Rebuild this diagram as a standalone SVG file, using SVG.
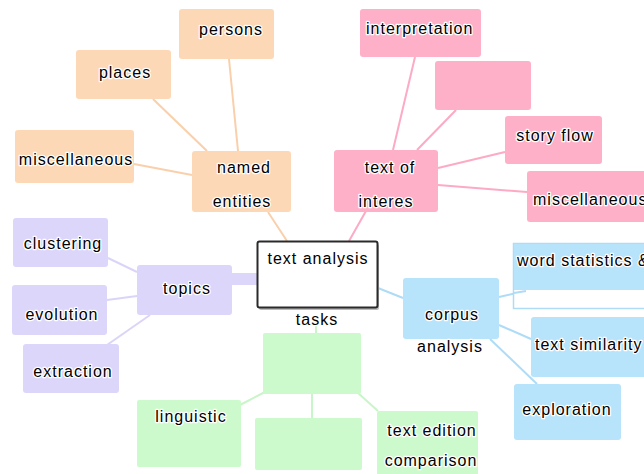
<svg xmlns="http://www.w3.org/2000/svg" width="644" height="474" viewBox="0 0 644 474">
  <style>
    text { font-family: "Liberation Sans", Arial, sans-serif; font-size: 16px; letter-spacing: 1px; fill: #000; stroke: #fff; stroke-width: 2.5px; paint-order: stroke; stroke-linejoin: round; text-anchor: middle; }
    .start { text-anchor: start; }
    .or { fill: #fdd8b6; }
    .pk { fill: #ffb0c9; }
    .pu { fill: #ddd6fb; }
    .gr { fill: #cdfacd; }
    .bl { fill: #b7e3fb; }
    .lo { stroke: #f9d0ab; stroke-width: 2; fill: none; }
    .lp { stroke: #fdaac4; stroke-width: 2; fill: none; }
    .lu { stroke: #dcd4f8; stroke-width: 2; fill: none; }
    .lg { stroke: #c9f5c9; stroke-width: 2; fill: none; }
    .lb { stroke: #aedcf7; stroke-width: 2; fill: none; }
  </style>
  <rect width="644" height="474" fill="#fff"/>

  <!-- connectors -->
  <g id="connectors">
    <line class="lo" x1="153" y1="99" x2="207" y2="151"/>
    <line class="lo" x1="229" y1="59" x2="238" y2="151"/>
    <line class="lo" x1="134" y1="164" x2="192" y2="175"/>
    <line class="lo" x1="268" y1="212" x2="287" y2="241"/>
    <line class="lp" x1="415" y1="57" x2="393" y2="150"/>
    <line class="lp" x1="456" y1="110" x2="417" y2="150"/>
    <line class="lp" x1="505" y1="152" x2="438" y2="168"/>
    <line class="lp" x1="527" y1="192" x2="438" y2="185"/>
    <line class="lp" x1="366" y1="211" x2="349" y2="241"/>
    <line class="lu" x1="108" y1="258" x2="137" y2="272"/>
    <line class="lu" x1="107" y1="300" x2="137" y2="296"/>
    <line class="lu" x1="107" y1="345" x2="150" y2="315"/>
    <rect x="232" y="273" width="25" height="12" fill="#ddd6fb"/>
    <line class="lb" x1="378" y1="288" x2="403" y2="298"/>
    <line class="lb" x1="499" y1="297" x2="525" y2="291"/>
    <line class="lb" x1="499" y1="325" x2="531" y2="339"/>
    <line class="lb" x1="490" y1="339" x2="537" y2="384"/>
    <line class="lg" x1="316" y1="325" x2="316" y2="333"/>
    <line class="lg" x1="265" y1="392" x2="240" y2="405"/>
    <line class="lg" x1="312" y1="394" x2="312" y2="418"/>
    <line class="lg" x1="358" y1="393" x2="378" y2="411"/>
  </g>

  <!-- named entities branch -->
  <g id="persons"><rect class="or" x="179" y="9" width="95" height="50" rx="3"/><text x="231" y="35">persons</text></g>
  <g id="places"><rect class="or" x="76" y="50" width="95" height="49" rx="3"/><text x="125" y="78">places</text></g>
  <g id="misc-entities"><rect class="or" x="15" y="130" width="119" height="53" rx="3"/><text x="76" y="165">miscellaneous</text></g>
  <g id="named-entities"><rect class="or" x="192" y="151" width="99" height="61" rx="3"/><text x="244" y="173">named</text><text x="242" y="207">entities</text></g>

  <!-- text of interest branch -->
  <g id="interpretation"><rect class="pk" x="360" y="9" width="121" height="48" rx="3"/><text class="start" x="366" y="34">interpretation</text></g>
  <g id="pink-blank"><rect class="pk" x="435" y="61" width="96" height="49" rx="3"/></g>
  <g id="story-flow"><rect class="pk" x="505" y="116" width="97" height="48" rx="3"/><text x="555" y="141">story flow</text></g>
  <g id="misc-interest"><rect class="pk" x="527" y="171" width="120" height="51" rx="3"/><text class="start" x="533" y="205">miscellaneous</text></g>
  <g id="text-of-interest"><rect class="pk" x="334" y="150" width="104" height="62" rx="3"/><text x="390" y="173">text of</text><text x="386" y="207">interes</text></g>

  <!-- centre -->
  <g id="text-analysis">
    <rect x="259" y="244" width="120" height="66" rx="2" fill="#bbb"/>
    <rect x="257.5" y="241.5" width="120" height="66" rx="2" fill="#fff" stroke="#2a2a2a" stroke-width="2"/>
    <text x="318" y="264">text analysis</text>
    <text x="317" y="325">tasks</text>
  </g>

  <!-- topics branch -->
  <g id="clustering"><rect class="pu" x="13" y="218" width="95" height="49" rx="3"/><text x="63" y="249">clustering</text></g>
  <g id="evolution"><rect class="pu" x="12" y="285" width="95" height="50" rx="3"/><text x="62" y="320">evolution</text></g>
  <g id="extraction"><rect class="pu" x="23" y="344" width="96" height="49" rx="3"/><text x="73" y="377">extraction</text></g>
  <g id="topics"><rect class="pu" x="137" y="265" width="95" height="50" rx="3"/><text x="187" y="294">topics</text></g>

  <!-- tasks branch -->
  <g id="tasks-blank"><rect class="gr" x="263" y="333" width="98" height="61" rx="2"/></g>
  <g id="linguistic"><rect class="gr" x="137" y="400" width="104" height="67" rx="2"/><text x="191" y="422">linguistic</text></g>
  <g id="green-blank"><rect class="gr" x="255" y="418" width="107" height="52" rx="2"/></g>
  <g id="text-edition"><rect class="gr" x="377" y="411" width="101" height="65" rx="2"/><text x="432" y="436">text edition</text><text x="431" y="466">comparison</text></g>

  <!-- corpus analysis branch -->
  <g id="word-statistics">
    <rect x="513.5" y="243.5" width="140" height="65" fill="#fff" stroke="#aedcf7" stroke-width="1.5"/>
    <rect x="514" y="244" width="140" height="46" fill="#b7e3fb"/>
    <line class="lb" x1="514" y1="293" x2="526" y2="291"/>
    <text class="start" x="517" y="266">word statistics &amp;</text>
  </g>
  <g id="text-similarity"><rect class="bl" x="531" y="317" width="120" height="60" rx="3"/><text class="start" x="535" y="350">text similarity</text></g>
  <g id="exploration"><rect class="bl" x="514" y="384" width="107" height="56" rx="3"/><text x="567" y="415">exploration</text></g>
  <g id="corpus-analysis"><rect class="bl" x="403" y="278" width="96" height="61" rx="3"/><text x="452" y="320">corpus</text><text x="450" y="352">analysis</text></g>
</svg>
